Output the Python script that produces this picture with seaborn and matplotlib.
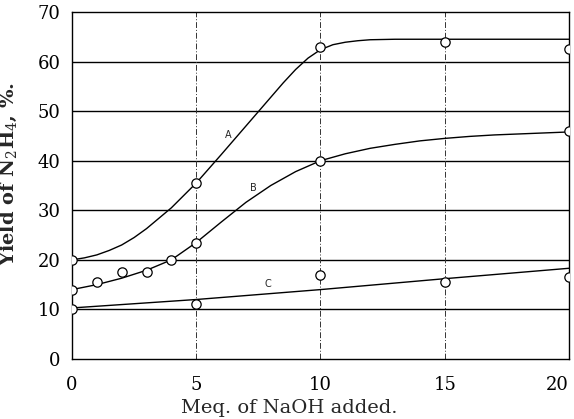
import matplotlib
matplotlib.use("Agg")
import matplotlib.pyplot as plt
import seaborn as sns
import pandas as pd

a_x = [0, 5, 10, 15, 20]
a_y = [20, 35.5, 63, 64, 62.5]
b_x = [0, 1, 2, 3, 4, 5, 10, 20]
b_y = [14, 15.5, 17.5, 17.5, 20, 23.5, 40, 46]
c_x = [0, 5, 10, 15, 20]
c_y = [10, 11, 17, 15.5, 16.5]

# Drawn curves
curve_a_x = [0, 0.5, 1, 1.5, 2, 2.5, 3, 4, 5, 6, 7, 8, 8.5, 9, 9.5, 10, 10.5, 11, 11.5, 12,
             13, 14, 15, 16, 17, 18, 19, 20]
curve_a_y = [20, 20.4, 21, 21.9, 23, 24.5, 26.3, 30.5, 35.5, 41.2, 47, 52.8, 55.7, 58.4,
             60.7, 62.4, 63.4, 63.9, 64.2, 64.4, 64.5, 64.5, 64.5, 64.5, 64.5, 64.5, 64.5, 64.5]
curve_b_x = [0, 1, 2, 3, 4, 5, 6, 7, 8, 9, 10, 11, 12, 13, 14, 15, 16, 17, 18, 19, 20]
curve_b_y = [14, 15, 16.3, 17.9, 20, 23.5, 27.6, 31.6, 35, 37.8, 40, 41.4, 42.5, 43.3, 44,
             44.5, 44.9, 45.2, 45.4, 45.6, 45.8]
curve_c_x = [0, 5, 10, 15, 20]
curve_c_y = [10.3, 12, 14, 16.2, 18.3]

curve_labels = ["A", "B", "C"]
label_x = [6.3, 7.3, 7.9]
label_y = [45.2, 34.5, 15.1]

x_ticks = [0, 5, 10, 15, 20]
y_ticks = [0, 10, 20, 30, 40, 50, 60, 70]

sns.set_style("white")
plt.rcParams["font.family"] = ["DejaVu Serif"]
plt.rcParams["mathtext.fontset"] = "dejavuserif"

fig = plt.figure(figsize=(5.74, 4.19), dpi=100)
ax = fig.add_axes([0.1254, 0.1432, 0.8659, 0.8282])

curves = pd.concat([
    pd.DataFrame({"x": curve_a_x, "y": curve_a_y, "c": "A"}),
    pd.DataFrame({"x": curve_b_x, "y": curve_b_y, "c": "B"}),
    pd.DataFrame({"x": curve_c_x, "y": curve_c_y, "c": "C"}),
])
points = pd.concat([
    pd.DataFrame({"x": a_x, "y": a_y, "c": "A"}),
    pd.DataFrame({"x": b_x, "y": b_y, "c": "B"}),
    pd.DataFrame({"x": c_x, "y": c_y, "c": "C"}),
])

sns.lineplot(data=curves, x="x", y="y", units="c", estimator=None, color="black",
             linewidth=1.0, ax=ax, zorder=3, legend=False)
sns.scatterplot(data=points, x="x", y="y", marker="o", s=45, facecolor="white",
                edgecolor="black", linewidth=0.9, ax=ax, zorder=4, legend=False)

for t, lx, ly in zip(curve_labels, label_x, label_y):
    ax.text(lx, ly, t, fontsize=7, family="DejaVu Sans", ha="center", va="center", zorder=5)

ax.set_xlim(0, 20)
ax.set_ylim(0, 70)
ax.set_xticks(x_ticks)
ax.set_yticks(y_ticks)
ax.set_xticklabels([str(v) for v in x_ticks])
ax.set_yticklabels([str(v) for v in y_ticks])
ax.tick_params(axis="both", length=0, labelsize=13, colors="black")
ax.tick_params(axis="x", pad=12)
ax.tick_params(axis="y", pad=8)
last = ax.get_xticklabels()[-1]
last.set_horizontalalignment("right")

for v in y_ticks[1:-1]:
    ax.axhline(v, color="black", linewidth=1.0, zorder=1)
for v in x_ticks[1:-1]:
    ax.axvline(v, color="#333333", linewidth=0.7, linestyle=(0, (6, 2, 1, 2)), zorder=1)

for s in ax.spines.values():
    s.set_visible(True)
    s.set_color("black")
    s.set_linewidth(1.0)

ax.set_xlabel("Meq. of NaOH added.", fontsize=14)
ax.set_ylabel("Yield of N$_2$H$_4$, %.", fontsize=14, fontweight="bold")
ax.xaxis.set_label_coords(0.437, -0.115)
ax.yaxis.set_label_coords(-0.107, 0.533)

fig.savefig("out.png", dpi=100)
